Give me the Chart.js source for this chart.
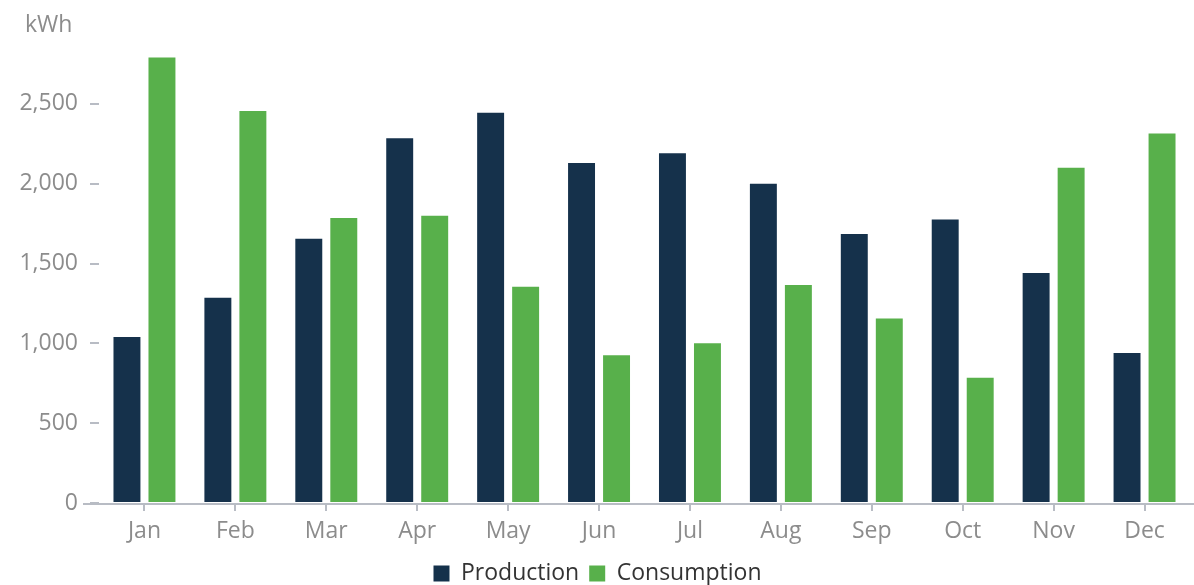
<!DOCTYPE html>
<html>
<head>
<meta charset="utf-8">
<script src="https://cdn.jsdelivr.net/npm/chart.js@4"></script>
<style>
  html, body { margin: 0; padding: 0; background: #fff; }
  #wrap { width: 1194px; height: 585px; }
</style>
</head>
<body>
<div id="wrap"><canvas id="energyChart"></canvas></div>
<script>
const months = ['Jan', 'Feb', 'Mar', 'Apr', 'May', 'Jun', 'Jul', 'Aug', 'Sep', 'Oct', 'Nov', 'Dec'];
const production = [1040, 1285, 1655, 2285, 2445, 2130, 2190, 2000, 1685, 1775, 1440, 940];
const consumption = [2790, 2455, 1785, 1800, 1355, 925, 1000, 1365, 1155, 785, 2100, 2315];
const yTicks = [0, 500, 1000, 1500, 2000, 2500];

const fontFamily = '"Open Sans", sans-serif';
const axisGrey = '#b8bcc4';

// unit label top left + x axis line running past the bars on both sides
const extras = {
  id: 'extras',
  afterDraw(chart) {
    const ctx = chart.ctx;
    const area = chart.chartArea;
    ctx.save();
    ctx.font = '23px ' + fontFamily;
    ctx.fillStyle = '#8c8c8c';
    ctx.textBaseline = 'middle';
    ctx.fillText('kWh', 25, 25);
    ctx.strokeStyle = axisGrey;
    ctx.lineWidth = 2;
    ctx.beginPath();
    ctx.moveTo(area.left - 16, area.bottom + 1);
    ctx.lineTo(chart.width, area.bottom + 1);
    ctx.stroke();
    ctx.restore();
  }
};

const dataE = {
  labels: months,
  datasets: [{
    label: 'Production',
    backgroundColor: '#15314b',
    data: production,
  }, {
    label: 'Consumption',
    backgroundColor: '#58b04b',
    data: consumption,
  }]
};

const configE = {
  type: 'bar',
  data: dataE,
  plugins: [extras],
  options: {
    responsive: true,
    maintainAspectRatio: false,
    animation: false,
    layout: {
      padding: { top: 48, right: 4, left: 5, bottom: -10 }
    },
    datasets: {
      bar: {
        categoryPercentage: 0.77,
        barPercentage: 0.77,
      }
    },
    scales: {
      x: {
        afterFit(scale) { scale.height = 49; },
        grid: {
          offset: false,
          drawOnChartArea: false,
          tickLength: 8,
          lineWidth: 2,
          color: axisGrey,
        },
        border: { display: false },
        ticks: {
          color: '#8c8c8c',
          font: { family: fontFamily, size: 23 },
          padding: 7,
        }
      },
      y: {
        min: 0,
        max: 2850,
        afterFit(scale) { scale.width = 94; },
        afterBuildTicks(axis) {
          axis.ticks = yTicks.map(v => ({ value: v }));
        },
        grid: {
          drawOnChartArea: false,
          tickLength: 9,
          color: axisGrey,
          lineWidth: 2,
        },
        border: { display: false },
        ticks: {
          color: '#8c8c8c',
          font: { family: fontFamily, size: 23 },
          padding: 12,
        }
      }
    },
    plugins: {
      legend: {
        position: 'bottom',
        labels: {
          boxWidth: 16,
          boxHeight: 16,
          padding: 10,
          color: '#333',
          font: { family: fontFamily, size: 23 },
        }
      },
      tooltip: { enabled: false }
    }
  }
};

const energyChart = new Chart(document.getElementById('energyChart'), configE);
</script>
</body>
</html>
